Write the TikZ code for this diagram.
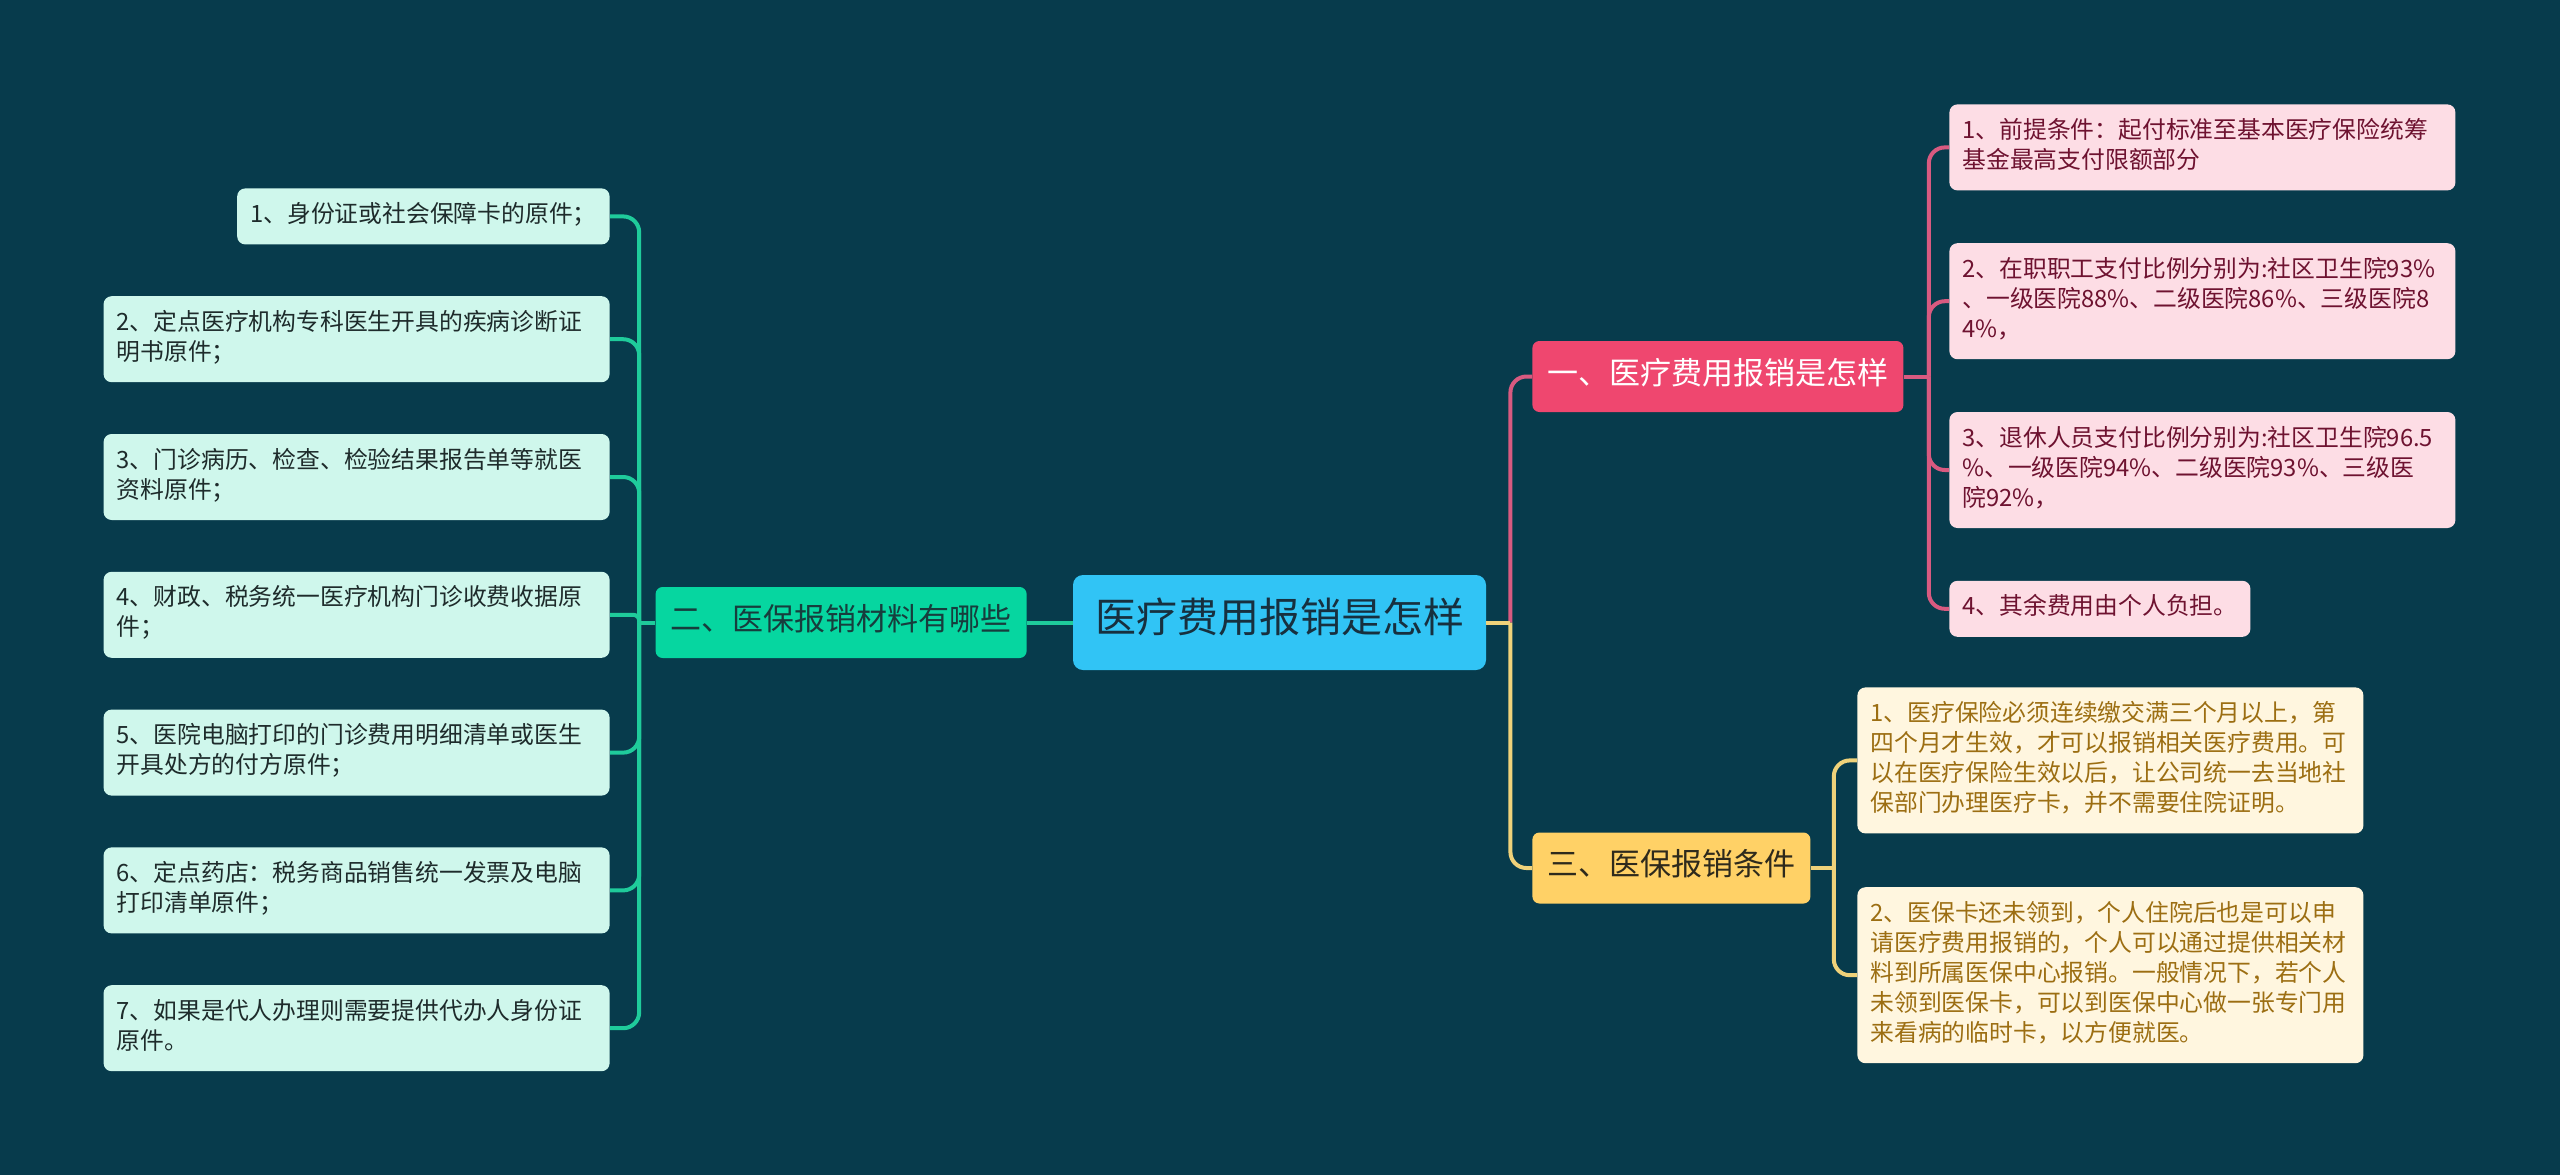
\documentclass[tikz,border=0pt]{standalone}
\usepackage{fontspec}
\newfontfamily\cjk{Noto Sans CJK SC}
\usepackage{tikz}
\usetikzlibrary{positioning}

\definecolor{bgteal}{HTML}{073B4C}
\definecolor{rootblue}{HTML}{31C4F5}
\definecolor{roottext}{HTML}{17303F}
\definecolor{mintbr}{HTML}{06D6A0}
\definecolor{rosebr}{HTML}{EF476F}
\definecolor{sandbr}{HTML}{FFD166}
\definecolor{mintfill}{HTML}{CFF7EC}
\definecolor{rosefill}{HTML}{FDDDE5}
\definecolor{sandfill}{HTML}{FFF6DF}
\definecolor{minttext}{HTML}{1E2B2B}
\definecolor{mintdark}{HTML}{173D3D}
\definecolor{rosetext}{HTML}{6E1230}
\definecolor{sandtext}{HTML}{9C6E12}
\definecolor{sanddark}{HTML}{2E2A1C}
\definecolor{mintline}{HTML}{1FCB9B}
\definecolor{roseline}{HTML}{D85A80}
\definecolor{sandline}{HTML}{EFD27A}

\begin{document}
\begin{tikzpicture}[
    x=0.5pt, y=-0.5pt,
    leaf/.style  = {rounded corners=4pt, align=left, inner xsep=6.5pt, inner ysep=6.5pt,
                    font=\cjk\fontsize{11.9}{15}\selectfont,
                    execute at begin node=\strut, execute at end node=\strut},
    wide/.style  = {leaf, text width=240pt},
    mint/.style  = {fill=mintfill, text=minttext},
    rose/.style  = {fill=rosefill, text=rosetext},
    sand/.style  = {fill=sandfill, text=sandtext},
    topic/.style = {rounded corners=3.5pt, inner xsep=7.5pt, inner ysep=8.25pt,
                    font=\cjk\fontsize{15.5}{19}\selectfont, execute at begin node=\strut},
    link/.style  = {line width=2pt, rounded corners=8pt},
    node distance = 25.5pt,
  ]
  \fill[bgteal] (0,0) rectangle (2560,1175);

  \node[topic, rounded corners=5pt, fill=rootblue, text=roottext, inner xsep=11pt, inner ysep=11.25pt,
        font=\cjk\fontsize{20.5}{25}\selectfont] (root) at (1279.5,622.5) {医疗费用报销是怎样};
  \node[topic, fill=mintbr, text=mintdark, anchor=east] (mat) at (1027,622.5) {二、医保报销材料有哪些};
  \node[topic, fill=rosebr, text=white, anchor=west] (cost) at (1532,376.5) {一、医疗费用报销是怎样};
  \node[topic, fill=sandbr, text=sanddark, anchor=west] (cond) at (1532,868) {三、医保报销条件};

  % materials, left column
  \node[leaf, mint, anchor=north east] (m1) at (610,188) {1、身份证或社会保障卡的原件；};
  \node[wide, mint, below=of m1.south east, anchor=north east] (m2)
      {2、定点医疗机构专科医生开具的疾病诊断证\\明书原件；};
  \node[wide, mint, below=of m2.south east, anchor=north east] (m3)
      {3、门诊病历、检查、检验结果报告单等就医\\资料原件；};
  \node[wide, mint, below=of m3.south east, anchor=north east] (m4)
      {4、财政、税务统一医疗机构门诊收费收据原\\件；};
  \node[wide, mint, below=of m4.south east, anchor=north east] (m5)
      {5、医院电脑打印的门诊费用明细清单或医生\\开具处方的付方原件；};
  \node[wide, mint, below=of m5.south east, anchor=north east] (m6)
      {6、定点药店：税务商品销售统一发票及电脑\\打印清单原件；};
  \node[wide, mint, below=of m6.south east, anchor=north east] (m7)
      {7、如果是代人办理则需要提供代办人身份证\\原件。};

  % costs, upper right
  \node[wide, rose, anchor=north west] (r1) at (1949,104)
      {1、前提条件：起付标准至基本医疗保险统筹\\基金最高支付限额部分};
  \node[wide, rose, below=26pt of r1.south west, anchor=north west] (r2)
      {2、在职职工支付比例分别为:社区卫生院93\%\\、一级医院88\%、二级医院86\%、三级医院8\\4\%，};
  \node[wide, rose, below=26pt of r2.south west, anchor=north west] (r3)
      {3、退休人员支付比例分别为:社区卫生院96.5\\\%、一级医院94\%、二级医院93\%、三级医\\院92\%，};
  \node[leaf, rose, below=26pt of r3.south west, anchor=north west] (r4) {4、其余费用由个人负担。};

  % conditions, lower right
  \node[wide, sand, anchor=north west] (s1) at (1857,687)
      {1、医疗保险必须连续缴交满三个月以上，第\\四个月才生效，才可以报销相关医疗费用。可\\以在医疗保险生效以后，让公司统一去当地社\\保部门办理医疗卡，并不需要住院证明。};
  \node[wide, sand, below=26.5pt of s1.south west, anchor=north west] (s2)
      {2、医保卡还未领到，个人住院后也是可以申\\请医疗费用报销的，个人可以通过提供相关材\\料到所属医保中心报销。一般情况下，若个人\\未领到医保卡，可以到医保中心做一张专门用\\来看病的临时卡，以方便就医。};

  % connectors
  \coordinate (jm) at ([xshift=-8pt]mat.west);
  \coordinate (jr) at ([xshift=12pt]root.east);
  \coordinate (jc) at ([xshift=12.5pt]cost.east);
  \coordinate (js) at ([xshift=11.5pt]cond.east);

  \draw[link, mintline] (root.west) -- (mat.east);
  \draw[link, mintline] (mat.west) -- (jm);
  \foreach \n/\r in {m1/8pt, m2/8pt, m3/8pt, m4/3pt, m5/8pt, m6/8pt, m7/8pt}
    \draw[link, mintline, rounded corners=\r] (jm) |- (\n.east);

  \draw[link, roseline] (jr) |- (cost.west);
  \draw[link, sandline] (jr) |- (cond.west);
  \draw[link, sandline] (root.east) -- (jr);

  \draw[link, roseline] (cost.east) -- (jc);
  \foreach \n in {r1, r2, r3, r4}
    \draw[link, roseline] (jc) |- (\n.west);

  \draw[link, sandline] (cond.east) -- (js);
  \foreach \n in {s1, s2}
    \draw[link, sandline] (js) |- (\n.west);
\end{tikzpicture}
\end{document}
